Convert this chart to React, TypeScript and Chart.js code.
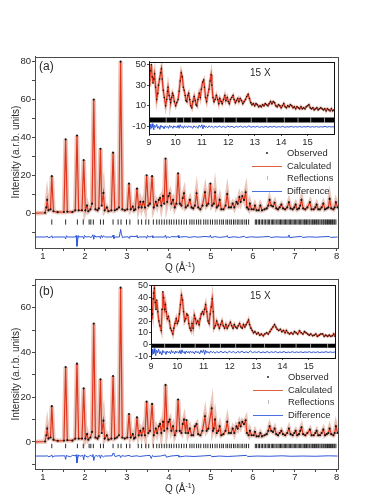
import React, { useEffect, useRef } from "react";
import { Chart, registerables } from "chart.js";
Chart.register(...registerables);

type Pt = [number, number];

const FONT = "'Liberation Sans', Arial, Helvetica, sans-serif";
const TEXT = "#2a2a2a";
const AXIS = "#4a4a4a";
const RED = "#e0341c";
const BLUE = "#2f56d6";

// ---------- Panel (a) main: calculated / observed profile (Q, intensity) ----------
const calcA: Pt[] = [
  [0.8,0],[1.05,0.2],[1.08,3],[1.10,7],[1.13,1.5],[1.18,2],[1.21,19.5],[1.25,1],[1.35,0.5],[1.50,0.6],[1.54,39],[1.58,0.8],
  [1.70,0.6],[1.77,1.5],[1.81,41],[1.85,1.5],[1.93,1.5],[1.97,28],[2.01,1.5],[2.05,4],[2.08,1],[2.13,2],[2.17,5],[2.21,60],
  [2.25,2],[2.30,1.5],[2.33,2.5],[2.37,34],[2.40,4],[2.44,10.7],[2.47,1.5],[2.52,3],[2.56,1],[2.63,1.5],[2.67,32],[2.71,1.5],
  [2.76,2],[2.81,3],[2.85,80],[2.89,2],[2.95,1.5],[3.01,2],[3.05,15.6],[3.09,2],[3.14,3.5],[3.17,1.5],[3.20,2],[3.24,13],
  [3.28,3],[3.32,6],[3.35,3],[3.39,6],[3.43,3],[3.47,20],[3.51,4],[3.55,5],[3.60,19.5],[3.64,3],[3.69,6],[3.72,4],[3.76,7],
  [3.79,8],[3.82,4],[3.86,9],[3.89,5],[3.92,28.8],[3.96,6],[3.99,9],[4.02,10.5],[4.06,5],[4.10,7],[4.14,3],[4.18,5],[4.22,21],
  [4.26,5],[4.30,4],[4.33,8],[4.36,10.5],[4.40,3],[4.45,4],[4.50,7],[4.54,3],[4.58,2.5],[4.62,4],[4.66,10.5],[4.70,3],[4.75,2],
  [4.80,4],[4.86,11],[4.90,4],[4.94,5],[4.99,15.6],[5.03,4],[5.07,5],[5.10,11],[5.14,3],[5.18,4],[5.21,7],[5.25,2],[5.30,2],
  [5.35,4],[5.39,10],[5.43,3],[5.48,3],[5.52,5],[5.56,3],[5.61,6],[5.64,5],[5.68,8.5],[5.71,6],[5.75,9],[5.79,7],[5.83,11],
  [5.86,3],[5.90,2],[5.93,5],[5.97,2],[6.02,2],[6.05,4],[6.09,1.5],[6.14,1.5],[6.18,4],[6.22,1.5],[6.28,2],[6.33,2.5],[6.37,4],
  [6.40,7],[6.44,4],[6.48,3.5],[6.52,5.5],[6.56,2.5],[6.60,2],[6.64,3],[6.68,4.5],[6.72,2.5],[6.77,2],[6.82,3],[6.86,5.7],
  [6.90,2.5],[6.95,2],[6.99,3],[7.02,4.5],[7.06,2],[7.10,2.5],[7.13,4],[7.16,7],[7.20,2.5],[7.25,2],[7.30,3],[7.36,5.7],[7.40,2],
  [7.45,2],[7.49,3],[7.52,4.5],[7.56,2],[7.60,2],[7.64,3],[7.68,5],[7.72,2],[7.76,2.5],[7.80,3],[7.83,7.5],[7.87,2.5],[7.92,2],
  [7.95,3],[7.98,5.7],[8.02,3]
];

const diffA: Pt[] = [
  [0.8,-12.6],[1.08,-12.6],[1.10,-12.1],[1.12,-12.9],[1.19,-12.6],[1.21,-11.9],[1.23,-13.1],[1.26,-12.6],[1.52,-12.6],[1.54,-13.6],
  [1.56,-11.9],[1.58,-12.6],[1.77,-12.6],[1.79,-11.8],[1.81,-17.5],[1.83,-13.8],[1.85,-11.9],[1.87,-12.6],[1.95,-12.4],[1.97,-13.5],
  [1.99,-11.8],[2.02,-12.6],[2.10,-12.4],[2.15,-12.9],[2.19,-11.4],[2.21,-13.8],[2.23,-11.7],[2.26,-12.6],[2.35,-12.3],[2.37,-13.4],
  [2.39,-11.7],[2.42,-12.9],[2.44,-11.9],[2.47,-12.6],[2.65,-12.6],[2.67,-11.6],[2.69,-13.4],[2.72,-12.6],[2.82,-12.6],[2.84,-9.8],
  [2.85,-8.6],[2.87,-11.2],[2.90,-13.0],[2.93,-12.6],[3.03,-12.5],[3.05,-13.2],[3.07,-12.2],[3.22,-12.4],[3.24,-11.7],[3.26,-13.1],
  [3.29,-12.6],[3.45,-12.5],[3.47,-13.3],[3.49,-11.8],[3.52,-12.6],[3.58,-12.4],[3.60,-11.9],[3.62,-13.0],[3.66,-12.6],[3.90,-12.6],
  [3.92,-11.6],[3.94,-13.3],[3.97,-12.4],[4.02,-12.9],[4.06,-12.4],[4.20,-12.5],[4.22,-11.8],[4.24,-13.1],[4.27,-12.6],[4.40,-12.4],
  [4.50,-12.8],[4.60,-12.4],[4.70,-12.7],[4.86,-12.3],[4.97,-12.6],[4.99,-11.6],[5.01,-12.9],[5.10,-12.4],[5.20,-12.8],[5.37,-12.4],
  [5.39,-11.8],[5.41,-12.9],[5.55,-12.5],[5.68,-12.8],[5.80,-12.2],[5.83,-12.9],[5.95,-12.5],[6.10,-12.7],[6.25,-12.5],[6.40,-12.3],
  [6.42,-12.9],[6.55,-12.5],[6.70,-12.7],[6.84,-12.6],[6.86,-11.5],[6.88,-12.9],[7.00,-12.6],[7.16,-12.3],[7.18,-12.8],[7.35,-12.5],
  [7.50,-12.7],[7.65,-12.5],[7.83,-12.3],[7.85,-12.8],[8.02,-12.6]
];

// ---------- Panel (b) main ----------
const calcB: Pt[] = [
  [0.8,0],[1.05,0.2],[1.08,3],[1.10,6],[1.13,1.5],[1.18,2],[1.21,16],[1.25,1],[1.35,0.5],[1.50,0.6],[1.54,33.5],[1.58,0.8],
  [1.70,0.6],[1.77,1.5],[1.81,35],[1.85,1.5],[1.93,1.5],[1.97,24],[2.01,1.5],[2.05,3.5],[2.08,1],[2.13,2],[2.17,4.5],[2.21,53],
  [2.25,2],[2.30,1.5],[2.33,2.5],[2.37,28],[2.40,4],[2.44,9.5],[2.47,1.5],[2.52,3],[2.56,1],[2.63,1.5],[2.67,29.5],[2.71,1.5],
  [2.76,2],[2.81,3],[2.85,69],[2.89,2],[2.95,1.5],[3.01,2],[3.05,12.5],[3.09,2],[3.14,3.5],[3.17,1.5],[3.20,2],[3.24,11],
  [3.28,3],[3.32,5],[3.35,3],[3.39,6],[3.43,3],[3.47,18],[3.51,4],[3.55,5],[3.60,17],[3.64,3],[3.69,6],[3.72,4],[3.76,7],
  [3.79,8],[3.82,4],[3.86,9],[3.89,5],[3.92,25.5],[3.96,6],[3.99,9],[4.02,10],[4.06,5],[4.10,7],[4.14,3],[4.18,5],[4.22,19],
  [4.26,5],[4.30,4],[4.33,8],[4.36,10],[4.40,4],[4.42,9.8],[4.46,4],[4.50,6],[4.54,3],[4.58,3],[4.62,7],[4.66,8],[4.70,3.5],
  [4.75,3],[4.80,5],[4.86,11.5],[4.90,5],[4.94,6],[5.02,15],[5.05,5],[5.07,6],[5.10,10],[5.14,4],[5.18,5],[5.21,7],[5.25,3],
  [5.30,3.5],[5.35,5],[5.39,9],[5.43,4],[5.48,4],[5.52,6],[5.56,4],[5.61,7],[5.64,6],[5.68,8.5],[5.71,7],[5.75,9],[5.79,8],
  [5.83,9.7],[5.86,4],[5.90,3],[5.93,5],[5.97,3],[6.02,3],[6.05,4.5],[6.09,2.5],[6.14,2.5],[6.18,4],[6.22,2.5],[6.28,3],[6.33,3.5],
  [6.37,5],[6.40,7],[6.44,5],[6.48,4.5],[6.52,6],[6.56,3.5],[6.60,3],[6.64,4],[6.68,5],[6.72,3.5],[6.77,3],[6.82,4],[6.86,6],
  [6.90,3.5],[6.95,3],[6.99,4],[7.02,5],[7.06,3],[7.10,3.5],[7.13,5],[7.16,6.5],[7.20,3.5],[7.25,3],[7.30,4],[7.36,5.5],[7.40,3],
  [7.45,3],[7.49,4],[7.52,5],[7.56,3],[7.60,3],[7.64,4],[7.68,5.5],[7.72,3],[7.76,3.5],[7.80,4],[7.83,6],[7.87,3.5],[7.92,3],
  [7.95,4],[7.98,7],[8.02,4]
];

const diffB: Pt[] = [
  [0.8,-6.3],[1.08,-6.3],[1.10,-6.0],[1.12,-6.6],[1.19,-6.3],[1.21,-5.8],[1.23,-6.9],[1.26,-6.3],[1.52,-6.2],[1.54,-7.8],[1.56,-5.9],
  [1.58,-6.3],[1.66,-6.6],[1.70,-6.0],[1.77,-6.2],[1.79,-5.7],[1.81,-9.4],[1.83,-7.2],[1.85,-5.8],[1.88,-6.4],[1.95,-6.0],[1.97,-8.0],
  [1.99,-5.7],[2.02,-6.4],[2.08,-6.8],[2.12,-6.0],[2.17,-6.4],[2.19,-5.6],[2.21,-8.3],[2.23,-6.7],[2.26,-6.0],[2.30,-6.4],[2.35,-6.0],
  [2.37,-7.3],[2.39,-5.8],[2.44,-6.8],[2.47,-6.3],[2.65,-6.2],[2.67,-5.0],[2.69,-5.4],[2.72,-6.6],[2.76,-6.3],[2.83,-6.0],[2.85,-7.0],
  [2.88,-6.1],[2.95,-6.4],[3.05,-6.0],[3.10,-6.5],[3.24,-6.2],[3.30,-6.5],[3.47,-6.1],[3.55,-6.0],[3.58,-7.4],[3.61,-6.0],[3.64,-6.5],
  [3.80,-6.3],[3.92,-5.8],[3.94,-6.8],[4.05,-6.3],[4.22,-6.0],[4.24,-6.7],[4.40,-6.3],[4.60,-6.5],[4.86,-6.2],[5.00,-6.0],[5.02,-6.6],
  [5.20,-6.3],[5.40,-6.5],[5.60,-6.3],[5.85,-6.0],[5.88,-6.5],[6.10,-6.3],[6.40,-6.4],[6.70,-6.2],[6.90,-6.4],[7.20,-6.3],[7.50,-6.4],
  [7.80,-6.2],[8.02,-6.3]
];

// reflection positions (Q) shown as tick marks in the main panels
const reflQ: number[] = [
  1.21,1.54,1.82,1.96,2.10,2.14,2.20,2.37,2.44,2.67,2.79,2.86,2.99,3.07,3.27,3.35,3.45,3.52,3.63,3.71,3.77,3.83,3.89,3.95,
  4.01,4.06,4.12,4.18,4.24,4.30,4.36,4.42,4.50,4.55,4.60,4.66,4.71,4.76,4.83,4.88,4.93,4.99,5.04,5.10,5.15,5.21,5.26,5.30,
  5.36,5.40,5.45,5.49,5.54,5.58,5.63,5.67,5.72,5.76,5.81,5.85,5.90,6.06,6.09,6.13,6.16,6.20,6.23,6.27,6.30,6.34,6.37,6.40,
  6.44,6.47,6.50,6.53,6.57,6.60,6.63,6.66,6.69,6.72,6.75,6.78,6.81,6.84,6.87,6.90,6.93,6.96,6.99,7.02,7.05,7.08,7.11,7.14,
  7.17,7.20,7.23,7.25,7.28,7.31,7.34,7.36,7.39,7.42,7.44,7.47,7.50,7.52,7.55,7.57,7.60,7.63,7.65,7.68,7.70,7.73,7.75,7.78,
  7.80,7.83,7.85,7.88,7.90,7.93,7.95,7.98
];

// ---------- Insets (15 X), Q 9–16 ----------
const insetCalcA: Pt[] = [
  [9.00,30],[9.03,35],[9.06,44],[9.09,50],[9.12,38],[9.15,32],[9.18,36],[9.21,41],[9.25,28],[9.29,16],[9.33,22],[9.36,30],[9.40,36],
  [9.44,42],[9.47,46],[9.50,36],[9.54,25],[9.58,18],[9.63,10],[9.67,16],[9.70,24],[9.72,28],[9.76,20],[9.80,16],[9.82,13],[9.86,18],
  [9.89,22],[9.92,20],[9.96,14],[10.01,10],[10.05,13],[10.10,16],[10.14,24],[10.18,34],[10.22,42],[10.26,38],[10.30,28],[10.33,25],
  [10.37,20],[10.40,15],[10.43,14],[10.47,20],[10.50,22],[10.54,16],[10.58,10],[10.62,8],[10.66,14],[10.71,19],[10.75,15],[10.78,11],
  [10.81,10],[10.85,16],[10.90,22],[10.94,18],[10.98,26],[11.03,33],[11.07,35],[11.10,28],[11.14,18],[11.18,14],[11.22,20],[11.27,26],
  [11.31,34],[11.35,40],[11.38,30],[11.42,18],[11.46,14],[11.50,16],[11.55,20],[11.60,16],[11.64,12],[11.68,17],[11.73,14],[11.77,12],
  [11.82,16],[11.87,20],[11.91,15],[11.96,18],[12.00,14],[12.04,12],[12.08,16],[12.13,18],[12.18,20],[12.22,16],[12.27,13],[12.31,15],
  [12.36,17],[12.40,14],[12.45,17],[12.50,15],[12.55,12],[12.60,14],[12.65,16],[12.70,19],[12.75,21],[12.80,17],[12.85,13],[12.90,11],
  [12.95,12],[13.00,10],[13.05,12],[13.10,11],[13.15,9],[13.20,10],[13.25,9],[13.30,11],[13.35,10],[13.40,12],[13.45,11],[13.50,10],
  [13.55,12],[13.60,14],[13.65,12],[13.70,14],[13.75,13],[13.80,10],[13.85,9],[13.90,11],[13.95,10],[14.00,8],[14.05,10],[14.10,12],
  [14.15,9],[14.20,8],[14.25,10],[14.30,9],[14.35,11],[14.40,10],[14.45,8],[14.50,9],[14.55,7],[14.60,9],[14.65,8],[14.70,7],[14.75,9],
  [14.80,7],[14.85,8],[14.90,7],[14.95,9],[15.00,10],[15.05,11],[15.10,8],[15.15,7],[15.20,8],[15.25,6],[15.30,7],[15.35,8],[15.40,6],
  [15.45,7],[15.50,8],[15.55,7],[15.60,6],[15.65,7],[15.70,5],[15.75,7],[15.80,6],[15.85,5],[15.90,7],[15.95,5],[16.00,6]
];

const insetDiffA: Pt[] = [
  [9.00,-10],[9.03,-13],[9.06,-8],[9.09,-12],[9.12,-7.5],[9.15,-11],[9.18,-13.5],[9.21,-9],[9.25,-11],[9.29,-8],[9.33,-12],[9.37,-10],
  [9.41,-13],[9.45,-9],[9.49,-11],[9.53,-10],[9.57,-12.5],[9.61,-9.5],[9.65,-11],[9.70,-10],[9.74,-12],[9.78,-9],[9.82,-11],[9.86,-10],
  [9.90,-12],[9.94,-9.5],[9.98,-11],[10.02,-10],[10.06,-11.5],[10.10,-9],[10.14,-12],[10.18,-8.5],[10.22,-11],[10.26,-10],[10.30,-12],
  [10.34,-9.5],[10.38,-11],[10.42,-10],[10.46,-11.5],[10.50,-9.5],[10.55,-11],[10.60,-10],[10.65,-12],[10.70,-9.5],[10.75,-11],
  [10.80,-10],[10.85,-12],[10.90,-9],[10.95,-11],[11.00,-8.5],[11.04,-12.5],[11.08,-9],[11.12,-11],[11.17,-10],[11.22,-11.5],
  [11.27,-9.5],[11.33,-11],[11.38,-10],[11.44,-11.5],[11.50,-10],[11.58,-11],[11.66,-9.8],[11.74,-11],[11.82,-10],[11.90,-11.2],
  [11.98,-9.8],[12.06,-10.8],[12.14,-10],[12.22,-11.3],[12.30,-10],[12.38,-10.8],[12.46,-9.8],[12.54,-11],[12.62,-10.2],[12.70,-11],
  [12.78,-9.5],[12.86,-11],[12.94,-10.2],[13.02,-10.8],[13.10,-10],[13.18,-11],[13.26,-10.3],[13.34,-10.9],[13.42,-10],[13.50,-11],
  [13.58,-10.2],[13.66,-10.8],[13.74,-10],[13.82,-11],[13.90,-10.3],[13.98,-10.8],[14.06,-10],[14.14,-11],[14.22,-10.4],[14.30,-10.8],
  [14.38,-10.1],[14.46,-10.9],[14.54,-10.3],[14.62,-10.8],[14.70,-10.2],[14.78,-10.9],[14.86,-10.3],[14.94,-10.7],[15.02,-10.1],
  [15.10,-10.9],[15.18,-10.3],[15.26,-10.8],[15.34,-10.2],[15.42,-10.9],[15.50,-10.4],[15.58,-10.7],[15.66,-10.1],[15.74,-10.8],
  [15.82,-10.3],[15.90,-10.7],[16.00,-10.4]
];

// dense reflection band (Q range) and the thin gaps visible in it
const insetBandRange: Pt[] = [[9, 16]];
const insetGapsA: number[] = [9.65, 10.05, 10.31, 10.6, 11.0, 11.4, 11.85, 12.3, 12.87, 13.46, 14.12, 14.64, 15.12, 15.64];
const insetGapsB: number[] = [9.52, 10.12, 10.68, 11.22, 11.64, 12.22, 12.8, 13.32, 13.92, 14.52, 15.07, 15.72];

const insetCalcB: Pt[] = [
  [9.00,22],[9.03,30],[9.06,26],[9.08,39],[9.10,44],[9.13,48],[9.16,36],[9.19,30],[9.22,38],[9.26,28],[9.30,20],[9.34,16],[9.39,12],
  [9.42,30],[9.45,45],[9.48,40],[9.52,30],[9.55,34],[9.58,28],[9.62,22],[9.66,24],[9.70,20],[9.74,14],[9.78,12],[9.83,9],[9.87,14],
  [9.91,18],[9.96,22],[10.00,18],[10.04,20],[10.08,26],[10.12,34],[10.16,42],[10.20,38],[10.24,28],[10.28,20],[10.32,22],[10.36,26],
  [10.40,25],[10.44,18],[10.48,14],[10.52,12],[10.56,18],[10.60,14],[10.65,25],[10.69,22],[10.73,18],[10.78,20],[10.83,17],[10.87,22],
  [10.91,26],[10.96,28],[11.00,26],[11.04,30],[11.08,34],[11.12,28],[11.17,20],[11.21,18],[11.25,26],[11.29,32],[11.33,39],[11.37,28],
  [11.40,14],[11.45,16],[11.50,20],[11.55,17],[11.60,14],[11.65,17],[11.70,20],[11.75,16],[11.80,14],[11.85,17],[11.90,14],[11.95,16],
  [12.02,19],[12.07,16],[12.12,14],[12.17,17],[12.22,15],[12.27,14],[12.32,16],[12.37,18],[12.42,15],[12.47,14],[12.52,17],[12.57,15],
  [12.62,17],[12.67,19],[12.71,21],[12.75,17],[12.80,14],[12.85,12],[12.90,10],[12.95,11],[13.02,9],[13.08,10],[13.14,8],[13.20,9],
  [13.27,7.5],[13.33,9],[13.40,10],[13.46,9],[13.52,11],[13.58,13],[13.64,15],[13.70,17],[13.75,15],[13.80,13],[13.86,12],[13.92,13],
  [13.98,11],[14.04,12],[14.10,10],[14.15,12],[14.21,10],[14.27,9],[14.33,10],[14.40,9],[14.46,11],[14.52,10],[14.58,9],[14.65,11.7],
  [14.71,10],[14.78,9],[14.84,11],[14.90,10],[14.96,9],[15.02,8],[15.08,9],[15.15,7.5],[15.21,8],[15.27,9],[15.33,7],[15.40,8],
  [15.46,9],[15.53,9],[15.59,7],[15.65,8],[15.72,7],[15.78,8],[15.84,7],[15.90,7.5],[15.95,9],[16.00,7]
];

const insetDiffB: Pt[] = [
  [9.00,-6],[9.03,-9],[9.06,-4],[9.09,-8],[9.12,-3.5],[9.15,-7],[9.18,-9.5],[9.21,-5],[9.25,-7],[9.29,-4],[9.33,-8],[9.37,-6],
  [9.41,-9],[9.45,-5],[9.49,-7],[9.53,-6],[9.57,-8.5],[9.61,-5.5],[9.65,-7],[9.70,-6],[9.74,-8],[9.78,-5],[9.82,-7],[9.86,-6],
  [9.90,-8],[9.94,-5.5],[9.98,-7],[10.02,-6],[10.06,-7.5],[10.10,-5],[10.14,-8],[10.18,-4.5],[10.22,-7],[10.26,-6],[10.30,-8],
  [10.34,-5.5],[10.38,-7],[10.42,-6],[10.46,-7.5],[10.50,-5.5],[10.55,-7],[10.60,-6],[10.65,-8],[10.70,-5.5],[10.75,-7],
  [10.80,-6],[10.85,-8],[10.90,-5],[10.95,-7],[11.00,-4.5],[11.04,-8.5],[11.08,-5],[11.12,-7],[11.17,-6],[11.22,-7.5],
  [11.27,-5.5],[11.33,-7],[11.38,-6],[11.44,-7.5],[11.50,-6],[11.58,-7],[11.66,-5.8],[11.74,-7],[11.82,-6],[11.90,-7.2],
  [11.98,-5.8],[12.06,-6.8],[12.14,-6],[12.22,-7.3],[12.30,-6],[12.38,-6.8],[12.46,-5.8],[12.54,-7],[12.62,-6.2],[12.70,-7],
  [12.78,-5.5],[12.86,-7],[12.94,-6.2],[13.02,-6.8],[13.10,-6],[13.18,-7],[13.26,-6.3],[13.34,-6.9],[13.42,-6],[13.50,-7],
  [13.58,-6.2],[13.66,-6.8],[13.74,-6],[13.82,-7],[13.90,-6.3],[13.98,-6.8],[14.06,-6],[14.14,-7],[14.22,-6.4],[14.30,-6.8],
  [14.38,-6.1],[14.46,-6.9],[14.54,-6.3],[14.62,-6.8],[14.70,-6.2],[14.78,-6.9],[14.86,-6.3],[14.94,-6.7],[15.02,-6.1],
  [15.10,-6.9],[15.18,-6.3],[15.26,-6.8],[15.34,-6.2],[15.42,-6.9],[15.50,-6.4],[15.58,-6.7],[15.66,-6.1],[15.74,-6.8],
  [15.82,-6.3],[15.90,-6.7],[16.00,-6.4]
];

// ---------- tick labels ----------
const mainXTicks = [1,1.5,2,2.5,3,3.5,4,4.5,5,5.5,6,6.5,7,7.5,8];
const mainXLabels = [1,2,3,4,5,6,7,8];
const mainYTicksA = [-10,0,10,20,30,40,50,60,70,80];
const mainYLabelsA = [0,20,40,60,80];
const mainYTicksB = [-10,0,10,20,30,40,50,60,70];
const mainYLabelsB = [0,20,40,60];
const insetXTicks = [9,10,11,12,13,14,15];
const insetYTicksA = [-10,10,30,50];
const insetYTicksB = [-10,0,10,20,30,40,50];

const legendItems = ["Observed", "Calculated", "Reflections", "Difference"];

interface Cfg {
  xMin: number; xMax: number; xTicks: number[]; xLabels: number[];
  yMin: number; yMax: number; yTicks: number[]; yLabels: number[];
  yWidth: number; xHeight: number; padTop: number; padRight: number;
  calc: Pt[]; diff: Pt[];
  refl?: number[]; reflY?: number; reflR?: number;
  band?: Pt[]; gaps?: number[]; bandY?: number; bandW?: number;
  tickFont: number; tickLen: number; yPad: number; xPad: number;
  dotR: number; halo: number; lineW: number; frame: string; fillWhite: boolean;
}

const toXY = (a: Pt[]) => a.map(([x, y]) => ({ x, y }));

function makeConfig(o: Cfg): any {
  const ds: any[] = [
    { data: toXY(o.calc), showLine: true, borderColor: "rgba(204,122,96,0.42)", borderWidth: o.halo, pointRadius: 0, order: 6 },
    { data: toXY(o.calc), showLine: true, borderColor: RED, borderWidth: o.lineW, pointRadius: 0, order: 4 },
    { data: toXY(o.calc), showLine: false, pointRadius: o.dotR, pointBackgroundColor: "#151515", pointBorderWidth: 0, order: 3 },
    { data: toXY(o.diff), showLine: true, borderColor: BLUE, borderWidth: 1, pointRadius: 0, order: 2 },
  ];
  if (o.refl) {
    ds.push({
      data: o.refl.map((x) => ({ x, y: o.reflY })), showLine: false, pointStyle: "line", rotation: 90,
      pointRadius: o.reflR, pointBorderColor: "#2a2a2a", pointBorderWidth: 1, order: 1,
    });
  }
  if (o.band) {
    ds.push({
      data: o.band.flatMap(([s, e]) => [{ x: s, y: o.bandY }, { x: e, y: o.bandY }]),
      showLine: true, borderColor: "#000", borderWidth: o.bandW, borderCapStyle: "butt",
      pointRadius: 0, order: 1,
    });
    ds.push({
      data: (o.gaps || []).map((x) => ({ x, y: o.bandY })), showLine: false, pointStyle: "line", rotation: 90,
      pointRadius: (o.bandW || 4) / 2, pointBorderColor: "rgba(255,255,255,0.6)", pointBorderWidth: 1, order: 0,
    });
  }
  const font = { family: FONT, size: o.tickFont };
  const framePlugin = {
    id: "frame",
    beforeDraw(chart: any) {
      if (!o.fillWhite) return;
      const { ctx, chartArea: a } = chart;
      ctx.save(); ctx.fillStyle = "#fff"; ctx.fillRect(a.left, a.top, a.width, a.height); ctx.restore();
    },
    afterDraw(chart: any) {
      const { ctx, chartArea: a } = chart;
      ctx.save(); ctx.strokeStyle = o.frame; ctx.lineWidth = 1;
      ctx.strokeRect(Math.round(a.left) + 0.5, Math.round(a.top) + 0.5, Math.round(a.width), Math.round(a.height));
      ctx.restore();
    },
  };
  return {
    type: "scatter",
    data: { datasets: ds },
    plugins: [framePlugin],
    options: {
      animation: false, responsive: false, events: [],
      layout: { padding: { top: o.padTop, right: o.padRight, left: 0, bottom: 0 } },
      plugins: { legend: { display: false }, tooltip: { enabled: false } },
      scales: {
        x: {
          type: "linear", min: o.xMin, max: o.xMax,
          afterBuildTicks: (s: any) => { s.ticks = o.xTicks.map((v) => ({ value: v })); },
          afterFit: (s: any) => { s.height = o.xHeight; },
          ticks: {
            autoSkip: false, maxRotation: 0, minRotation: 0, padding: o.xPad, color: TEXT, font,
            callback: (v: any) => (o.xLabels.includes(v) ? String(v) : ""),
          },
          grid: { drawOnChartArea: false, drawTicks: true, tickLength: o.tickLen, color: AXIS },
          border: { display: true, color: AXIS, width: 1 },
        },
        y: {
          type: "linear", min: o.yMin, max: o.yMax,
          afterBuildTicks: (s: any) => { s.ticks = o.yTicks.map((v) => ({ value: v })); },
          afterFit: (s: any) => { s.width = o.yWidth; },
          ticks: {
            autoSkip: false, padding: o.yPad, color: TEXT, font,
            callback: (v: any) => (o.yLabels.includes(v) ? String(v) : ""),
          },
          grid: { drawOnChartArea: false, drawTicks: true, tickLength: o.tickLen, color: AXIS },
          border: { display: true, color: AXIS, width: 1 },
        },
      },
    },
  };
}

function ChartCanvas({ left, top, width, height, cfg }: { left: number; top: number; width: number; height: number; cfg: Cfg }) {
  const ref = useRef<HTMLCanvasElement>(null);
  useEffect(() => {
    const chart = new Chart(ref.current as HTMLCanvasElement, makeConfig(cfg));
    return () => chart.destroy();
  }, []);
  return (
    <canvas ref={ref} width={width} height={height}
      style={{ position: "absolute", left, top, width, height, display: "block" }} />
  );
}

const mainA: Cfg = {
  xMin: 0.81, xMax: 8.03, xTicks: mainXTicks, xLabels: mainXLabels,
  yMin: -18.4, yMax: 82.6, yTicks: mainYTicksA, yLabels: mainYLabelsA,
  yWidth: 35, xHeight: 32, padTop: 6, padRight: 7,
  calc: calcA, diff: diffA, refl: reflQ, reflY: -4.7, reflR: 2.6,
  tickFont: 9.5, tickLen: 3, yPad: 1, xPad: 0, dotR: 1.1, halo: 4.5, lineW: 1.2, frame: AXIS, fillWhite: false,
};
const insetA: Cfg = {
  xMin: 9, xMax: 16, xTicks: insetXTicks, xLabels: insetXTicks,
  yMin: -17.5, yMax: 52.8, yTicks: insetYTicksA, yLabels: insetYTicksA,
  yWidth: 24, xHeight: 16, padTop: 4, padRight: 6,
  calc: insetCalcA, diff: insetDiffA, band: insetBandRange, gaps: insetGapsA, bandY: -4, bandW: 5,
  tickFont: 9.5, tickLen: 2, yPad: 1, xPad: 1, dotR: 0.8, halo: 3, lineW: 1.3, frame: "#111", fillWhite: true,
};
const mainB: Cfg = {
  xMin: 0.81, xMax: 8.03, xTicks: mainXTicks, xLabels: mainXLabels,
  yMin: -12.1, yMax: 72.9, yTicks: mainYTicksB, yLabels: mainYLabelsB,
  yWidth: 35, xHeight: 26, padTop: 7, padRight: 7,
  calc: calcB, diff: diffB, refl: reflQ, reflY: -1.8, reflR: 2.2,
  tickFont: 9.5, tickLen: 3, yPad: 1, xPad: 0, dotR: 1.1, halo: 4.5, lineW: 1.2, frame: AXIS, fillWhite: false,
};
const insetB: Cfg = {
  xMin: 9, xMax: 16, xTicks: insetXTicks, xLabels: insetXTicks,
  yMin: -11.5, yMax: 50.5, yTicks: insetYTicksB, yLabels: insetYTicksB,
  yWidth: 26, xHeight: 16, padTop: 4, padRight: 5,
  calc: insetCalcB, diff: insetDiffB, band: insetBandRange, gaps: insetGapsB, bandY: -1, bandW: 4,
  tickFont: 9, tickLen: 2, yPad: 1, xPad: 1, dotR: 0.8, halo: 3, lineW: 1.3, frame: "#111", fillWhite: true,
};

function Txt({ x, y, size, children, style }: any) {
  return (
    <div style={{ position: "absolute", left: x, top: y - size / 2, fontSize: size, lineHeight: `${size}px`,
      whiteSpace: "nowrap", color: TEXT, fontFamily: FONT, ...style }}>{children}</div>
  );
}

function Legend({ textX, x0, x1, ys }: { textX: number; x0: number; x1: number; ys: number[] }) {
  const cx = (x0 + x1) / 2;
  return (
    <>
      <div style={{ position: "absolute", left: cx - 1, top: ys[0] - 1, width: 2, height: 2, background: "#222", borderRadius: 1 }} />
      <div style={{ position: "absolute", left: x0, top: ys[1], width: x1 - x0, height: 1, background: "#e0603f" }} />
      <div style={{ position: "absolute", left: cx, top: ys[2] - 2, width: 1, height: 4, background: "#bdbdbd" }} />
      <div style={{ position: "absolute", left: x0, top: ys[3], width: x1 - x0, height: 1, background: "#4a6fe0" }} />
      {legendItems.map((t, i) => (
        <Txt key={t} x={textX} y={ys[i]} size={9.4}>{t}</Txt>
      ))}
    </>
  );
}

function YTitle({ x, y }: { x: number; y: number }) {
  return (
    <div style={{ position: "absolute", left: x, top: y, transform: "translate(-50%,-50%) rotate(-90deg)",
      fontSize: 10, lineHeight: "10px", whiteSpace: "nowrap", color: TEXT, fontFamily: FONT }}>
      Intensity (a.r.b. units)
    </div>
  );
}

function XTitle({ x, y }: { x: number; y: number }) {
  return (
    <div style={{ position: "absolute", left: x, top: y, transform: "translate(-50%,-50%)",
      fontSize: 10, lineHeight: "10px", whiteSpace: "nowrap", color: TEXT, fontFamily: FONT }}>
      Q (Å<sup style={{ fontSize: 7, lineHeight: 0 }}>-1</sup>)
    </div>
  );
}

export default function App() {
  useEffect(() => {
    document.body.style.overflow = "hidden";
  }, []);
  return (
    <div style={{ position: "absolute", left: 0, top: 0, width: 383, height: 495, background: "#fff", overflow: "hidden" }}>
      <ChartCanvas left={0} top={50} width={345} height={230} cfg={mainA} />
      <ChartCanvas left={125} top={55} width={215} height={95} cfg={insetA} />
      <ChartCanvas left={0} top={272} width={345} height={223} cfg={mainB} />
      <ChartCanvas left={125} top={279} width={215} height={95} cfg={insetB} />

      <Txt x={39} y={66} size={12}>(a)</Txt>
      <Txt x={39} y={291} size={12}>(b)</Txt>
      <Txt x={250} y={72.5} size={10}>15 X</Txt>
      <Txt x={250} y={296} size={10}>15 X</Txt>

      <YTitle x={16} y={152} />
      <YTitle x={16} y={374} />
      <XTitle x={180} y={268} />
      <XTitle x={180} y={489} />

      <Legend textX={287} x0={252} x1={282} ys={[153, 166, 178, 191]} />
      <Legend textX={288} x0={253} x1={283} ys={[377, 390, 402, 415]} />
    </div>
  );
}
